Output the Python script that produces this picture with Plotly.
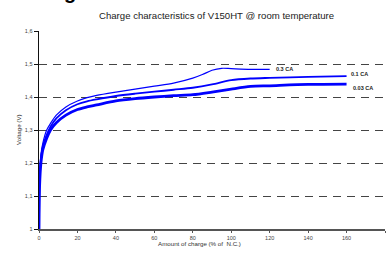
import plotly.graph_objects as go

# Amount of charge (% of N.C.)
x_03 = [0, 0.3, 1, 2, 4, 6, 9, 14, 20, 25, 30, 40, 50, 60, 70, 80, 85, 90, 95, 100, 110, 120]
v_03 = [1.00, 1.15, 1.225, 1.26, 1.30, 1.32, 1.345, 1.37, 1.388, 1.398, 1.405, 1.415, 1.424,
        1.433, 1.442, 1.457, 1.468, 1.481, 1.487, 1.486, 1.484, 1.484]

x_01 = [0, 0.3, 1, 2, 4, 6, 9, 14, 20, 25, 30, 40, 50, 60, 70, 80, 90, 100, 110, 120, 140, 160]
v_01 = [1.00, 1.14, 1.21, 1.25, 1.285, 1.31, 1.335, 1.36, 1.378, 1.387, 1.393, 1.403, 1.41,
        1.416, 1.422, 1.428, 1.438, 1.451, 1.456, 1.458, 1.461, 1.463]

x_003 = [0, 0.3, 1, 2, 4, 6, 9, 14, 20, 25, 30, 40, 50, 60, 70, 80, 90, 100, 110, 120, 140, 160]
v_003 = [1.00, 1.13, 1.20, 1.24, 1.275, 1.30, 1.322, 1.345, 1.362, 1.37, 1.376, 1.388, 1.395,
         1.400, 1.404, 1.407, 1.415, 1.424, 1.432, 1.434, 1.438, 1.439]

series_names = ["0.3 CA", "0.1 CA", "0.03 CA"]
x_ticks = [0, 20, 40, 60, 80, 100, 120, 140, 160, 180]
y_ticks = [1.0, 1.1, 1.2, 1.3, 1.4, 1.5, 1.6]

BLUE = "#0000ff"
fig = go.Figure()
for xs, vs, w, name in [(x_003, v_003, 2.8, series_names[2]),
                        (x_01, v_01, 1.8, series_names[1]),
                        (x_03, v_03, 1.2, series_names[0])]:
    fig.add_trace(go.Scatter(x=xs, y=vs, mode="lines", name=name,
                             line=dict(color=BLUE, width=w, shape="spline", smoothing=0.8),
                             showlegend=False, hoverinfo="skip"))

# end labels
label_pos = [(x_03[-1], v_03[-1], series_names[0]),
             (x_01[-1], v_01[-1], series_names[1]),
             (x_003[-1], v_003[-1], series_names[2])]
offsets = [(2.5, 0.0), (1.5, 0.007), (2.5, -0.011)]
for (xx, yy, t), (dx, dy) in zip(label_pos, offsets):
    fig.add_annotation(x=xx + dx, y=yy + dy, text="<b>" + t + "</b>", showarrow=False,
                       xanchor="left", yanchor="middle",
                       font=dict(size=5.5, color="#222222", family="Liberation Sans"))

fig.add_annotation(text="Charge characteristics of V150HT @ room temperature",
                   xref="paper", yref="paper", x=(217 - 39) / 346.5, y=(229 - 15.5) / 198,
                   showarrow=False, xanchor="center", yanchor="middle",
                   font=dict(size=9.6, color="#222222", family="Liberation Sans"))
fig.add_annotation(text="Amount of charge (% of  N.C.)",
                   xref="paper", yref="paper", x=(200 - 39) / 346.5, y=(229 - 243) / 198,
                   showarrow=False, xanchor="center", yanchor="middle",
                   font=dict(size=6.2, color="#333333", family="Liberation Sans"))
fig.add_annotation(text="Voltage (V)", textangle=-90,
                   xref="paper", yref="paper", x=(18 - 39) / 346.5, y=(229 - 130) / 198,
                   showarrow=False, xanchor="center", yanchor="middle",
                   font=dict(size=6.2, color="#333333", family="Liberation Sans"))
# cut-off heading fragment at top of the page
fig.add_annotation(text="<b>g</b>", xref="paper", yref="paper",
                   x=(70 - 39) / 346.5, y=(229 - 4) / 198, showarrow=False,
                   xanchor="center", yanchor="bottom", borderpad=0,
                   font=dict(size=20, color="#000000", family="Liberation Sans"))

fig.update_layout(
    width=386, height=253,
    margin=dict(l=39, r=0.5, t=31, b=24),
    paper_bgcolor="white", plot_bgcolor="white",
    separators=",.",
    font=dict(family="Liberation Sans", color="#333333"),
    hovermode=False,
)
fig.update_xaxes(range=[0, 180], tickvals=x_ticks, showgrid=False, zeroline=False,
                 showline=True, linecolor="#555555", linewidth=2.2,
                 ticks="outside", ticklen=2, tickcolor="#555555", tickwidth=1,
                 tickfont=dict(size=5.5, color="#444444"), automargin=False)
fig.update_yaxes(range=[1, 1.6], tickvals=y_ticks, showgrid=True, gridcolor="#444444",
                 gridwidth=1, griddash="8px,6px", zeroline=False,
                 showline=True, linecolor="#111111", linewidth=1.4,
                 ticks="outside", ticklen=4, tickcolor="#111111", tickwidth=1,
                 tickfont=dict(size=5.5, color="#444444"), automargin=False)

fig.write_html("out.html", config={"displayModeBar": False, "staticPlot": True},
               post_script="document.body.style.margin='0';document.body.style.overflow='hidden';")
